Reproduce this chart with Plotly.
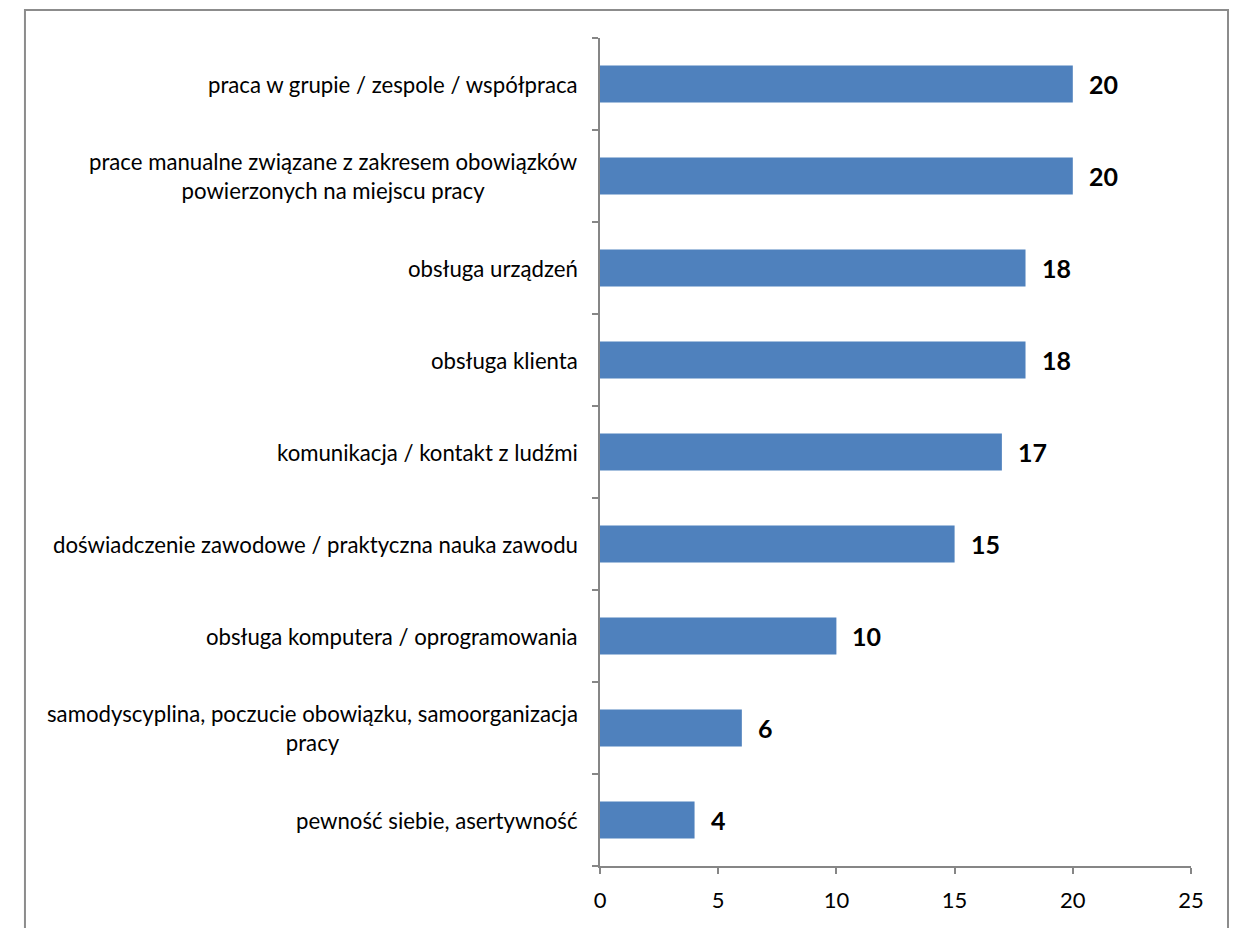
import plotly.graph_objects as go

categories = [
    "praca w grupie / zespole / współpraca",
    "prace manualne związane z zakresem obowiązków<br>powierzonych na miejscu pracy",
    "obsługa urządzeń",
    "obsługa klienta",
    "komunikacja / kontakt z ludźmi",
    "doświadczenie zawodowe / praktyczna nauka zawodu",
    "obsługa komputera / oprogramowania",
    "samodyscyplina, poczucie obowiązku, samoorganizacja<br>pracy",
    "pewność siebie, asertywność",
]
values = [20, 20, 18, 18, 17, 15, 10, 6, 4]
x_ticks = [0, 5, 10, 15, 20, 25]

FONT = "Lato"
AXIS = "#868686"

fig = go.Figure(
    go.Bar(
        x=values,
        y=categories,
        orientation="h",
        marker=dict(color="#4F81BD", line=dict(width=0)),
        width=0.4,
        hoverinfo="skip",
    )
)

for c, v in zip(categories, values):
    fig.add_annotation(
        x=v, y=c, xref="x", yref="y", text=f"<b>{v}</b>", showarrow=False,
        xanchor="left", xshift=14, font=dict(family=FONT, size=25, color="black"),
    )
    fig.add_annotation(
        x=0, y=c, xref="paper", yref="y", text=c, showarrow=False,
        xanchor="right", align="center", xshift=-20,
        font=dict(family=FONT, size=22.2, color="black"),
    )

fig.add_shape(
    type="rect", xref="paper", yref="paper",
    x0=-0.973, x1=1.0626, y0=-0.2, y1=1.0338,
    line=dict(color="#8c8c8c", width=2), fillcolor="rgba(0,0,0,0)", layer="below",
)

fig.update_layout(
    width=1239, height=928,
    margin=dict(l=592, r=56, t=30, b=70),
    paper_bgcolor="white", plot_bgcolor="white",
    showlegend=False,
    font=dict(family=FONT, size=19, color="black"),
    xaxis=dict(
        range=[0, 25], tickvals=x_ticks, showgrid=False, zeroline=False,
        showline=True, linecolor=AXIS, linewidth=1.5,
        ticks="outside", ticklen=6, tickcolor=AXIS, tickwidth=1.5,
        ticklabelstandoff=8,
        tickfont=dict(family=FONT, size=22, color="black"),
    ),
    yaxis=dict(
        categoryorder="array", categoryarray=categories[::-1],
        autorange=False, range=[-0.5, len(categories) - 0.5],
        showgrid=False, zeroline=False, showticklabels=False,
        showline=True, linecolor=AXIS, linewidth=1.5,
        ticks="outside", tickson="boundaries", ticklen=6, tickcolor=AXIS, tickwidth=1.5,
    ),
)

fig.write_html("out.html")
